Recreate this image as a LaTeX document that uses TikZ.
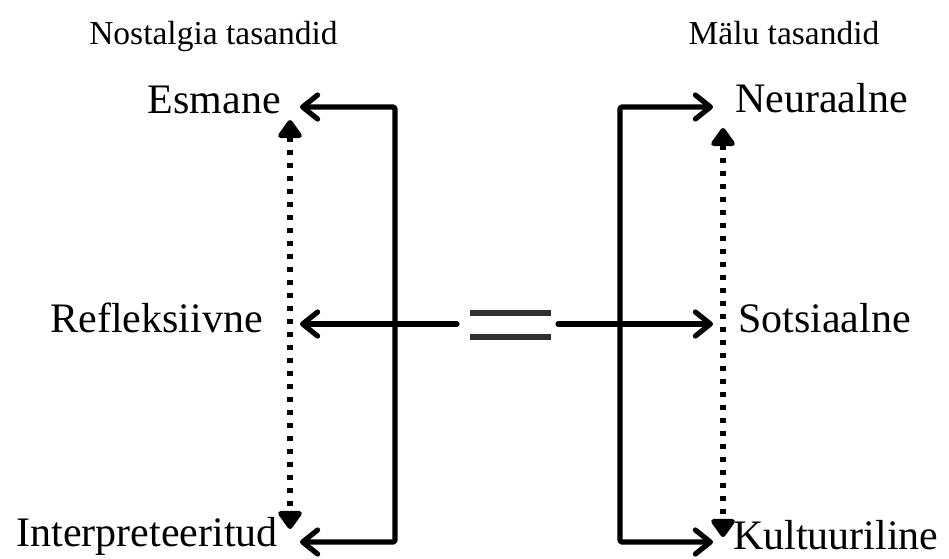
\documentclass[tikz,border=0pt]{standalone}
\usepackage{fontspec}
\setmainfont{Liberation Serif}
\usetikzlibrary{arrows.meta}
\definecolor{eqgrey}{HTML}{303030}
\begin{document}
\begin{tikzpicture}[x=1pt,y=-1pt,
  barb/.tip={Straight Barb[length=15pt,width=24pt,round]},
  conn/.style={line width=5.2pt, line cap=round, line join=round, rounded corners=1.5pt},
  dots/.style={line width=5.5pt, dash pattern=on 5.5pt off 7.5pt,
    {Triangle[length=20pt,width=27pt,round]}-{Triangle[length=20pt,width=27pt,round]}},
  lbl/.style={font=\fontsize{42}{48}\selectfont, inner sep=0pt},
  ttl/.style={font=\fontsize{33.5}{40}\selectfont, inner sep=0pt},
  eqbar/.style={line width=5.5pt, draw=eqgrey}]
\useasboundingbox (0,0) rectangle (949,558);
% titles
\node[ttl, anchor=base] (tl) at (213.5,44) {Nostalgia tasandid};
\node[ttl, anchor=base] (tr) at (784,44) {Mälu tasandid};
% labels
\node[lbl, anchor=base east] (esm) at (281,113) {Esmane};
\node[lbl, anchor=base east] (ref) at (263,332) {Refleksiivne};
\node[lbl, anchor=base east] (int) at (278,546) {Interpreteeritud};
\node[lbl, anchor=base west] (neu) at (735,112) {Neuraalne};
\node[lbl, anchor=base west] (sot) at (738,332) {Sotsiaalne};
\node[lbl, anchor=base west] (kul) at (733,549) {Kultuuriline};
% coordinates
\coordinate (tTL) at (300,107);
\coordinate (tML) at (300,324);
\coordinate (tBL) at (300,542);
\coordinate (cTL) at (395,107);
\coordinate (cBL) at (395,542);
\coordinate (tTR) at (713,107);
\coordinate (tMR) at (713,324);
\coordinate (tBR) at (713,542);
\coordinate (cTR) at (620,107);
\coordinate (cBR) at (620,542);
\coordinate (eqL) at (457,324);
\coordinate (eqR) at (558,324);
\coordinate (dLt) at (290,120);
\coordinate (dLb) at (290,529);
\coordinate (dRt) at (723,128);
\coordinate (dRb) at (723,537);
% equals sign
\draw[eqbar] (470,313) -- (551,313);
\draw[eqbar] (470,337) -- (551,337);
% brackets
\draw[conn, barb-barb] (tTL) -- (cTL) -- (cBL) -- (tBL);
\draw[conn, -barb] (eqL) -- (tML);
\draw[conn, barb-barb] (tTR) -- (cTR) -- (cBR) -- (tBR);
\draw[conn, -barb] (eqR) -- (tMR);
% dotted
\draw[dots] (dLt) -- (dLb);
\draw[dots] (dRt) -- (dRb);
\end{tikzpicture}
\end{document}
